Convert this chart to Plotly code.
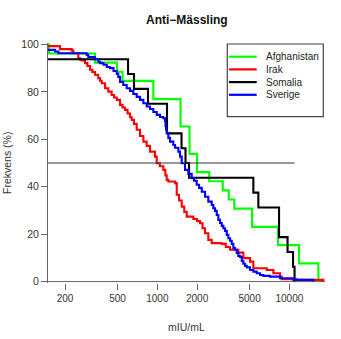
import math
import plotly.graph_objects as go

# ---- data (titer in mIU/mL, percent with titer above value) ----
series_names = ["Afghanistan", "Irak", "Somalia", "Sverige"]
series_colors = ["#00FF00", "#FF0000", "#000000", "#0000FF"]

afg_x = [140, 151, 337, 495, 545, 933, 1499, 1754, 1999, 2473, 3130, 3475, 3825, 5218, 8210, 11846, 16587]
afg_y = [100, 96.15, 92.31, 88.46, 84.62, 76.92, 65.38, 53.85, 46.15, 42.31, 38.46, 34.62, 30.77, 23.08, 15.38, 7.69, 0]

irak_x = [140, 183, 225, 231, 252, 260, 268, 283, 295, 309, 322, 337, 357, 368, 379, 402, 425, 451, 470, 493,
          522, 545, 569, 595, 621, 640, 665, 698, 740, 784, 830, 880, 961, 990, 1045, 1110, 1150, 1178, 1212,
          1362, 1403, 1460, 1530, 1600, 1670, 1874, 2000, 2107, 2200, 2298, 2434, 2583, 3075, 3300, 3555,
          4108, 4483, 5039, 5338, 6743, 7566, 8502, 8759, 10722, 18097]
irak_y = [99.3, 98.0, 97.4, 96.3, 94.2, 93.6, 93.2, 92.1, 90.9, 89.3, 88.4, 87.2, 85.8, 84.7, 83.6, 81.5, 80.1,
          78.7, 77.6, 76.6, 74.5, 73.4, 72.4, 70.9, 69.3, 68.2, 66.5, 64.0, 61.4, 59.0, 57.2, 54.8, 52.7, 49.9,
          48.6, 47.1, 44.8, 42.9, 42.2, 41.5, 36.6, 34.2, 31.6, 29.4, 27.4, 26.4, 25.5, 24.6, 22.5, 20.4, 17.6,
          16.2, 15.9, 14.6, 13.4, 12.2, 9.9, 8.4, 5.6, 4.9, 3.5, 2.1, 1.0, 0.7, 0]

som_x = [140, 600, 666, 850, 1184, 1525, 1635, 1739, 5338, 5823, 8356, 9692, 10667, 10950]
som_y = [93.75, 87.5, 81.25, 75, 62.5, 56.25, 50, 43.75, 37.5, 31.25, 18.75, 12.5, 6.25, 0]

sve_x = [140, 168, 178, 292, 300, 337, 357, 368, 391, 414, 438, 466, 493, 506, 522, 552, 586, 621, 658, 698,
         740, 784, 831, 880, 933, 990, 1048, 1110, 1144, 1154, 1164, 1178, 1212, 1248, 1322, 1362, 1443, 1486,
         1530, 1621, 1718, 1822, 1897, 1988, 2070, 2170, 2298, 2434, 2583, 2656, 2736, 2818, 2899, 2985, 3075,
         3162, 3258, 3356, 3451, 3555, 3661, 3765, 3878, 3995, 4108, 4232, 4360, 4483, 4618, 4757, 5039, 5338,
         5662, 5998, 6353, 7142, 8502, 10722, 11340, 15199]
sve_y = [97.7, 97.0, 96.3, 95.6, 94.7, 93.8, 92.7, 92.1, 91.4, 90.5, 90.0, 88.8, 87.6, 86.3, 84.2, 82.9, 81.5,
         80.4, 79.1, 77.9, 76.6, 75.2, 73.8, 72.8, 71.5, 70.3, 69.4, 68.9, 67.7, 65.6, 64.0, 62.6, 60.6, 59.0,
         57.6, 56.4, 54.8, 52.7, 49.9, 47.1, 45.4, 43.6, 42.5, 40.8, 39.5, 37.9, 35.8, 33.7, 32.3, 30.9, 29.8,
         28.1, 26.0, 24.7, 23.5, 22.5, 21.4, 19.7, 18.3, 17.2, 15.9, 14.1, 13.4, 12.1, 10.8, 10.4, 8.7, 7.5, 6.6,
         6.0, 4.9, 4.2, 3.5, 2.8, 2.4, 2.1, 1.4, 1.0, 0.7, 0]

ref_line_x = [140, 10950]
ref_line_y = [50, 50]

x_ticks = [200, 500, 1000, 2000, 5000, 10000]
y_ticks = [0, 20, 40, 60, 80, 100]

title_text = "Anti−Mässling"
x_title = "mIU/mL"
y_title = "Frekvens (%)"

# ---- figure ----
FONT = "Liberation Sans, Arial, sans-serif"
W, H = 341, 339
ML, MR, MT, MB = 48, 16, 43, 56
PW, PH = W - ML - MR, H - MT - MB

def px_x(p):
    return (p - ML) / PW

def px_y(p):
    return (H - MB - p) / PH

fig = go.Figure()

data = [(afg_x, afg_y), (irak_x, irak_y), (som_x, som_y), (sve_x, sve_y)]
for (xs, ys), name, col in zip(data, series_names, series_colors):
    fig.add_trace(go.Scatter(x=xs, y=ys, mode="lines", line=dict(color=col, width=2.1, shape="hv"),
                             name=name, showlegend=False, hoverinfo="skip"))

fig.add_trace(go.Scatter(x=ref_line_x, y=ref_line_y, mode="lines",
                         line=dict(color="#333333", width=1.1), showlegend=False, hoverinfo="skip"))

shapes = []
# x axis line at y=0
shapes.append(dict(type="line", xref="paper", yref="y", x0=0, x1=1, y0=0, y1=0,
                   line=dict(color="#666666", width=1), layer="below"))

# manual legend
lx0, lx1, ly0, ly1 = 227.3, 323.3, 44, 116.7
shapes.append(dict(type="rect", xref="paper", yref="paper", x0=px_x(lx0), x1=px_x(lx1),
                   y0=px_y(ly1), y1=px_y(ly0), line=dict(color="#444444", width=1.2),
                   fillcolor="white"))
annotations = []
leg_rows = [56.7, 69.4, 82.1, 94.8]
for name, col, yy in zip(series_names, series_colors, leg_rows):
    shapes.append(dict(type="line", xref="paper", yref="paper", x0=px_x(229), x1=px_x(256.7),
                       y0=px_y(yy), y1=px_y(yy), line=dict(color=col, width=2.2)))
    annotations.append(dict(text=name, xref="paper", yref="paper", x=px_x(264.5), y=px_y(yy),
                            xanchor="left", yanchor="middle", showarrow=False, borderpad=0,
                            font=dict(family=FONT, size=10, color="#222222")))

annotations.append(dict(text="<b>" + title_text + "</b>", xref="paper", yref="paper",
                        x=px_x(186.5), y=px_y(20), xanchor="center", yanchor="middle", showarrow=False,
                        font=dict(family=FONT, size=12, color="#111111")))
annotations.append(dict(text=x_title, xref="paper", yref="paper", x=px_x(186.5), y=px_y(326.5),
                        xanchor="center", yanchor="middle", showarrow=False,
                        font=dict(family=FONT, size=10.5, color="#333333")))
annotations.append(dict(text=y_title, xref="paper", yref="paper", x=px_x(7), y=px_y(163),
                        xanchor="center", yanchor="middle", showarrow=False, textangle=-90,
                        font=dict(family=FONT, size=10.5, color="#333333")))

fig.update_layout(
    width=W, height=H,
    margin=dict(l=ML, r=MR, t=MT, b=MB, pad=0),
    paper_bgcolor="white", plot_bgcolor="white",
    font=dict(family=FONT, size=10.5, color="#333333"),
    showlegend=False,
    shapes=shapes,
    annotations=annotations,
    xaxis=dict(type="log", range=[math.log10(148.6), 4.270], tickvals=x_ticks,
               ticktext=[str(v) for v in x_ticks], ticks="outside", ticklen=6, tickcolor="#666666",
               tickwidth=1, showgrid=False, zeroline=False, showline=False,
               tickfont=dict(family=FONT, size=10, color="#333333")),
    yaxis=dict(range=[-0.6, 100.6], tickvals=y_ticks, ticks="outside", ticklen=6, tickcolor="#666666",
               tickwidth=1, showgrid=False, zeroline=False, showline=True, linecolor="#666666",
               linewidth=1, tickfont=dict(family=FONT, size=10.5, color="#333333")),
)

fig.write_html("out.html")
